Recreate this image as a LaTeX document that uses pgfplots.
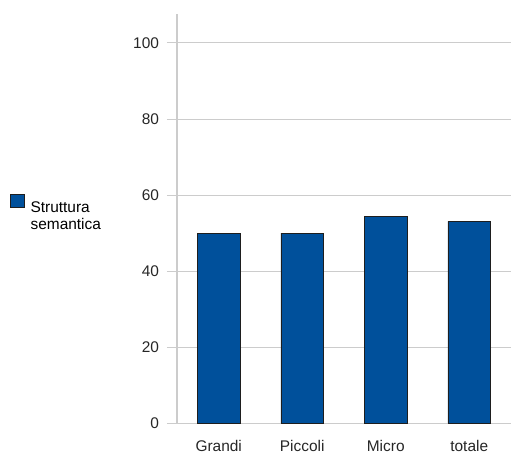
\documentclass[border=0pt]{standalone}
\usepackage{fontspec}
\setmainfont{Liberation Sans}
\usepackage{pgfplots}
\pgfplotsset{compat=1.18}

\definecolor{barblue}{RGB}{0,80,155}
\definecolor{gridgrey}{RGB}{204,204,204}
\definecolor{edgegrey}{RGB}{30,30,30}

\begin{document}
\begin{tikzpicture}
\begin{axis}[
  at={(177bp,28.5bp)}, anchor=south west,
  scale only axis,
  width=334bp, height=409.5bp,
  xmin=0.5, xmax=4.5,
  ymin=0, ymax=107.6,
  axis x line*=bottom,
  axis y line*=left,
  axis line style={gridgrey, line width=1.3bp},
  /pgf/number format/assume math mode=true,
  tick label style={font=\fontsize{15.5}{18}\selectfont, text=black!85},
  xtick={1,2,3,4},
  xticklabels={Grandi, Piccoli, Micro, totale},
  ytick={0,20,40,60,80,100},
  tick align=outside,
  major tick length=10bp,
  tick style={gridgrey, line width=1bp},
  xtick style={draw=none},
  extra x ticks={0.5,1.5,2.5,3.5,4.5},
  extra x tick labels={},
  extra x tick style={tick style={gridgrey, line width=1bp}, grid=none},
  ymajorgrids,
  grid style={gridgrey, line width=1bp},
  yticklabel style={xshift=-4.5bp},
  xticklabel style={yshift=-2.8bp},
  legend style={
    at={(-0.50,0.561)}, anchor=north west,
    draw=none, fill=none,
    font=\fontsize{15.5}{17.5}\selectfont,
    cells={anchor=base west, align=left},
    inner sep=0pt,
  },
  legend image code/.code={
    \draw[#1] (0bp,4.5bp) rectangle (13.5bp,18bp);
  },
]
\addplot[ybar, bar width=0.51, fill=barblue, draw=edgegrey, line width=0.9bp]
  coordinates {(1,50) (2,50) (3,54.5) (4,53.1)};
\addlegendentry{\begin{tabular}[t]{@{\hspace{4bp}}l@{}}Struttura\\semantica\end{tabular}}
\end{axis}
\pgfresetboundingbox
\useasboundingbox (0,0) rectangle (512bp,452bp);
\end{tikzpicture}
\end{document}
